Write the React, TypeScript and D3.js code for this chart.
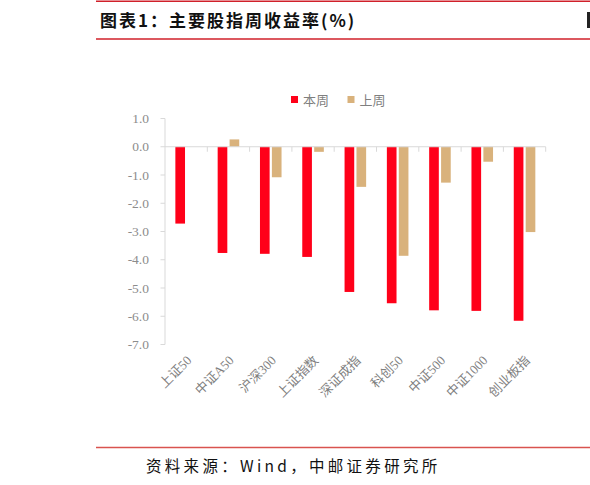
import * as d3 from "d3";

const categories = ["上证50", "中证A50", "沪深300", "上证指数", "深证成指", "科创50", "中证500", "中证1000", "创业板指"];
const seriesNames = ["本周", "上周"];
const thisWeek = [-2.72, -3.76, -3.79, -3.9, -5.14, -5.54, -5.79, -5.81, -6.16];
const lastWeek = [0, 0.26, -1.08, -0.18, -1.42, -3.86, -1.27, -0.53, -3.02];
const yTicks = [1, 0, -1, -2, -3, -4, -5, -6, -7];
const seriesColors = ["#ff0019", "#d9b27c"];

const WIDTH = 590;
const HEIGHT = 485;
const plot = { left: 165, right: 545.7, top: 118.5, bottom: 344.5 };

const serif = "'Liberation Serif', 'Times New Roman', 'Noto Sans CJK SC', serif";
const cjk = "'Noto Sans CJK SC', 'DejaVu Sans', sans-serif";

export default function App() {
  const x = d3.scaleBand<string>().domain(categories).range([plot.left, plot.right]);
  const step = x.bandwidth();
  const sub = d3.scaleBand<string>()
    .domain(seriesNames)
    .range([step * 0.245, step * 0.755])
    .paddingInner(0.19);
  const y = d3.scaleLinear().domain([-7, 1]).range([plot.bottom, plot.top]);
  const y0 = y(0);

  const series = [thisWeek, lastWeek];
  const axisColor = "#d9d9d9";

  return (
    <svg
      width={WIDTH}
      height={HEIGHT}
      style={{ position: "absolute", left: 0, top: 0, background: "#fff", overflow: "hidden" }}
    >
      <rect width={WIDTH} height={HEIGHT} fill="#fff" />

      {/* header */}
      <line x1={96} x2={WIDTH} y1={1.2} y2={1.2} stroke="#d0202a" strokeWidth={1.6} />
      <text x={100} y={27} fontFamily={cjk} fontWeight={700} fontSize={17} letterSpacing={2} fill="#111">
        图表1：主要股指周收益率(%)
      </text>
      <rect x={587} y={12} width={3} height={16} fill="#222" />
      <line x1={96} x2={WIDTH} y1={39} y2={39} stroke="#d0202a" strokeWidth={1.6} />

      {/* legend */}
      {seriesNames.map((name, i) => (
        <g key={name} transform={`translate(${291 + i * 56.5},0)`}>
          <rect x={0} y={96} width={7} height={7} fill={seriesColors[i]} />
          <text x={12} y={104.5} fontFamily={cjk} fontSize={13} fill="#7f7f7f">
            {name}
          </text>
        </g>
      ))}

      {/* y axis */}
      <line x1={plot.left} x2={plot.left} y1={y(1)} y2={y(-7)} stroke={axisColor} strokeWidth={1} />
      {yTicks.map((t) => (
        <g key={t}>
          <line x1={plot.left - 4.5} x2={plot.left} y1={y(t)} y2={y(t)} stroke={axisColor} strokeWidth={1} />
          <text
            x={149}
            y={y(t)}
            dy="0.35em"
            textAnchor="end"
            fontFamily={serif}
            fontSize={13.5}
            fill="#8c8c8c"
          >
            {t.toFixed(1)}
          </text>
        </g>
      ))}

      {/* bars */}
      {series.map((vals, si) =>
        vals.map((v, ci) => (
          <rect
            key={`${si}-${ci}`}
            x={(x(categories[ci]) as number) + (sub(seriesNames[si]) as number)}
            y={Math.min(y(v), y0)}
            width={sub.bandwidth()}
            height={Math.abs(y(v) - y0)}
            fill={seriesColors[si]}
          />
        ))
      )}

      {/* zero axis */}
      <line x1={plot.left} x2={plot.right} y1={y0} y2={y0} stroke={axisColor} strokeWidth={1.2} />
      {categories.map((c) => (
        <line
          key={c}
          x1={(x(c) as number) + step}
          x2={(x(c) as number) + step}
          y1={y0}
          y2={y0 + 5}
          stroke={axisColor}
          strokeWidth={1}
        />
      ))}

      {/* category labels */}
      {categories.map((c) => {
        const cx = (x(c) as number) + step / 2 + 3;
        const cy = 358;
        return (
          <text
            key={c}
            transform={`translate(${cx},${cy}) rotate(-45)`}
            textAnchor="end"
            fontFamily={serif}
            fontSize={13}
            fill="#7f7f7f"
            dy="0.35em"
          >
            {c}
          </text>
        );
      })}

      {/* footer */}
      <line x1={96} x2={WIDTH} y1={447.5} y2={447.5} stroke="#d9534f" strokeWidth={1.6} />
      <text x={146} y={472} fontFamily={cjk} fontSize={15.5} letterSpacing={3.3} fill="#111">
        资料来源：Wind，中邮证券研究所
      </text>
    </svg>
  );
}
